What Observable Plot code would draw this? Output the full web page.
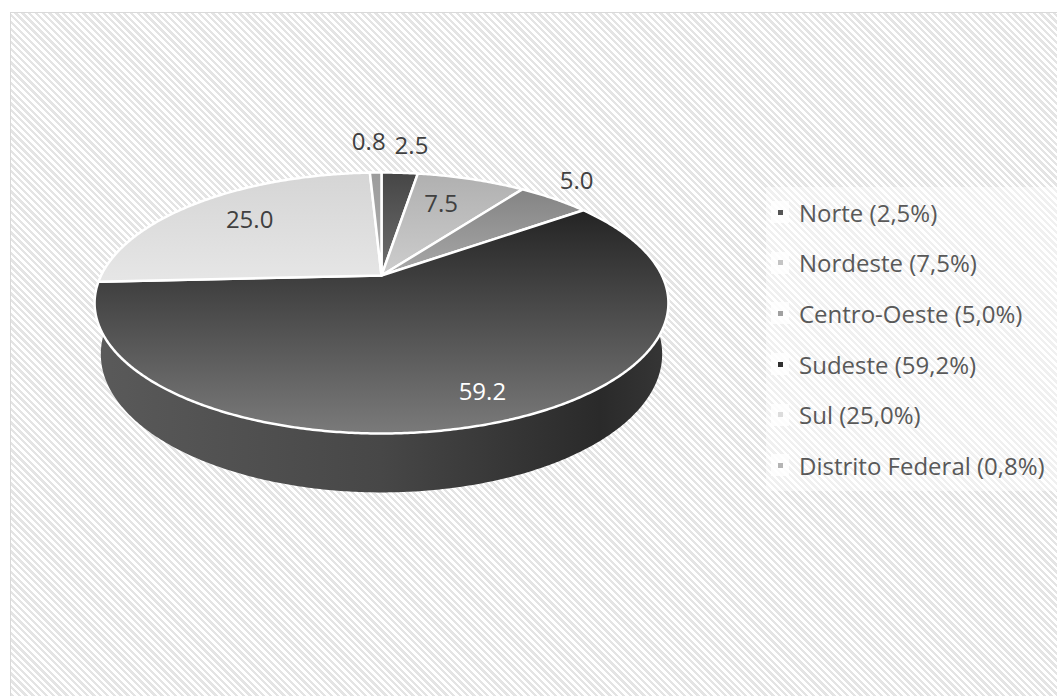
<!DOCTYPE html>
<html>
<head>
<meta charset="utf-8">
<script src="https://cdn.jsdelivr.net/npm/d3@7"></script>
<script src="https://cdn.jsdelivr.net/npm/@observablehq/plot@0.6"></script>
<style>
  html, body { margin: 0; padding: 0; width: 1057px; height: 696px; overflow: hidden; background: #fff; font-family: "Open Sans", sans-serif; }
  #frame { position: absolute; left: 10px; top: 12px; width: 1100px; height: 720px; border: 1.5px solid #d9d9d9;
    background: repeating-linear-gradient(45deg, #ffffff 0px, #ffffff 2.4px, #e4e4e4 2.4px, #e4e4e4 4.8px); }
  #chart { position: absolute; left: 0; top: 0; }
  #legend { position: absolute; left: 766px; top: 187px; width: 291px; background: rgba(255,255,255,0.45); }
  .row { height: 50.6px; display: flex; align-items: center; color: #595959; font-size: 24px; white-space: nowrap; }
  .box { width: 18px; height: 22px; margin-left: 5px; margin-right: 10px; background: rgba(255,255,255,0.8); display: flex; align-items: center; justify-content: center; }
  .sw { width: 5px; height: 5px; }
  #defs { position: absolute; width: 0; height: 0; }
</style>
</head>
<body>
<svg id="defs" width="0" height="0">
  <defs>
    <linearGradient id="gNorte" x1="0" y1="0" x2="0" y2="1"><stop offset="0" stop-color="#464646"/><stop offset="1" stop-color="#6e6e6e"/></linearGradient>
    <linearGradient id="gNordeste" x1="0" y1="0" x2="0" y2="1"><stop offset="0" stop-color="#b0b0b0"/><stop offset="1" stop-color="#cdcdcd"/></linearGradient>
    <linearGradient id="gCentro" x1="0" y1="0" x2="0" y2="1"><stop offset="0" stop-color="#848484"/><stop offset="1" stop-color="#a8a8a8"/></linearGradient>
    <linearGradient id="gSudeste" x1="0" y1="0" x2="0" y2="1"><stop offset="0" stop-color="#242424"/><stop offset="1" stop-color="#7a7a7a"/></linearGradient>
    <linearGradient id="gSul" x1="0" y1="0" x2="0" y2="1"><stop offset="0" stop-color="#d5d5d5"/><stop offset="1" stop-color="#e6e6e6"/></linearGradient>
    <linearGradient id="gDF" x1="0" y1="0" x2="0" y2="1"><stop offset="0" stop-color="#9c9c9c"/><stop offset="1" stop-color="#b0b0b0"/></linearGradient>
    <linearGradient id="wSudeste" x1="0" y1="0" x2="1" y2="0"><stop offset="0" stop-color="#5a5a5a"/><stop offset="0.5" stop-color="#474747"/><stop offset="0.88" stop-color="#2a2a2a"/><stop offset="1" stop-color="#363636"/></linearGradient>
    <linearGradient id="wSul" x1="0" y1="0" x2="1" y2="0"><stop offset="0" stop-color="#a8a8a8"/><stop offset="1" stop-color="#bcbcbc"/></linearGradient>
    <linearGradient id="wOther" x1="0" y1="0" x2="1" y2="0"><stop offset="0" stop-color="#555"/><stop offset="1" stop-color="#555"/></linearGradient>
  </defs>
</svg>
<div id="frame"></div>
<div id="chart"></div>
<div id="legend"></div>
<script>
// ---- data ----
const regions = ["Norte", "Nordeste", "Centro-Oeste", "Sudeste", "Sul", "Distrito Federal"];
const values = [2.5, 7.5, 5.0, 59.2, 25.0, 0.8];
const dataLabels = ["2.5", "7.5", "5.0", "59.2", "25.0", "0.8"];
const legendLabels = ["Norte (2,5%)", "Nordeste (7,5%)", "Centro-Oeste (5,0%)", "Sudeste (59,2%)", "Sul (25,0%)", "Distrito Federal (0,8%)"];
const topFills = ["url(#gNorte)", "url(#gNordeste)", "url(#gCentro)", "url(#gSudeste)", "url(#gSul)", "url(#gDF)"];
const wallFills = ["url(#wOther)", "url(#wOther)", "url(#wOther)", "url(#wSudeste)", "url(#wSul)", "url(#wOther)"];
const legendColors = ["#555555", "#c4c4c4", "#a0a0a0", "#303030", "#dcdcdc", "#b4b4b4"];
const labelColors = ["#404040", "#404040", "#404040", "#ffffff", "#404040", "#404040"];
// label placement: radius factor and small angular nudge (degrees)
const labelRadius = [1.33, 0.69, 1.22, 0.84, 0.71, 1.38];
const labelNudge = [1.4, -2, -2.3, -1.5, 1, -1];

// ---- 3D perspective projection (pixel space) ----
const W = 1057, H = 696;
const cx = 381, cy = 275;           // apex of the pie on screen
const F = 1192, Dist = 4.25;        // focal length, camera distance (radius = 1)
const phi = Math.asin(0.4446);      // elevation
const sp = Math.sin(phi), cp = Math.cos(phi);
const depthH = 0.2035;              // thickness of the pie
function project(r, a, z) {
  const X = r * Math.sin(a), Yd = r * Math.cos(a);
  const depth = Yd * cp + Dist - z * sp;
  const up = Yd * sp + z * cp;
  return [cx + F * X / depth, cy - F * up / depth];
}

const pie = d3.pie().sort(null).startAngle(0).endAngle(2 * Math.PI)(values);
const step = Math.PI / 360;
function arcAngles(a0, a1) {
  const n = Math.max(2, Math.ceil((a1 - a0) / step));
  return d3.range(n + 1).map(k => a0 + (a1 - a0) * k / n);
}

const wallRows = [], topRows = [];
pie.forEach((p, i) => {
  const angs = arcAngles(p.startAngle, p.endAngle);
  const wall = [...angs.map(a => project(1, a, 0)), ...angs.slice().reverse().map(a => project(1, a, -depthH))];
  wall.push(wall[0]);
  wall.forEach(([x, y]) => wallRows.push({key: regions[i], x, y, fill: wallFills[i]}));
  const top = [project(0, 0, 0), ...angs.map(a => project(1, a, 0)), project(0, 0, 0)];
  top.forEach(([x, y]) => topRows.push({key: regions[i], x, y, fill: topFills[i]}));
});

const labelRows = pie.map((p, i) => {
  const a = (p.startAngle + p.endAngle) / 2 + labelNudge[i] * Math.PI / 180;
  const [x, y] = project(labelRadius[i], a, 0);
  return {x, y, text: dataLabels[i], color: labelColors[i]};
});

const chart = Plot.plot({
  width: W, height: H,
  margin: 0,
  style: {background: "transparent", overflow: "visible"},
  x: {domain: [0, W], range: [0, W], axis: null},
  y: {domain: [0, H], range: [0, H], axis: null},
  color: {type: "identity"},
  marks: [
    Plot.line(wallRows, {x: "x", y: "y", z: "key", fill: "fill", stroke: "none", curve: "linear"}),
    Plot.line(topRows, {x: "x", y: "y", z: "key", fill: "fill", stroke: "#ffffff", strokeWidth: 2.5, strokeLinejoin: "round", curve: "linear"}),
    Plot.text(labelRows, {x: "x", y: "y", text: "text", fill: "color", fontSize: 24, fontFamily: "Open Sans", textAnchor: "middle"})
  ]
});
document.getElementById("chart").appendChild(chart);

// ---- legend ----
const legend = document.getElementById("legend");
legendLabels.forEach((t, i) => {
  const row = document.createElement("div");
  row.className = "row";
  const box = document.createElement("span");
  box.className = "box";
  const sw = document.createElement("span");
  sw.className = "sw";
  sw.style.background = legendColors[i];
  box.appendChild(sw);
  const tx = document.createElement("span");
  tx.textContent = t;
  row.appendChild(box); row.appendChild(tx);
  legend.appendChild(row);
});
</script>
</body>
</html>
